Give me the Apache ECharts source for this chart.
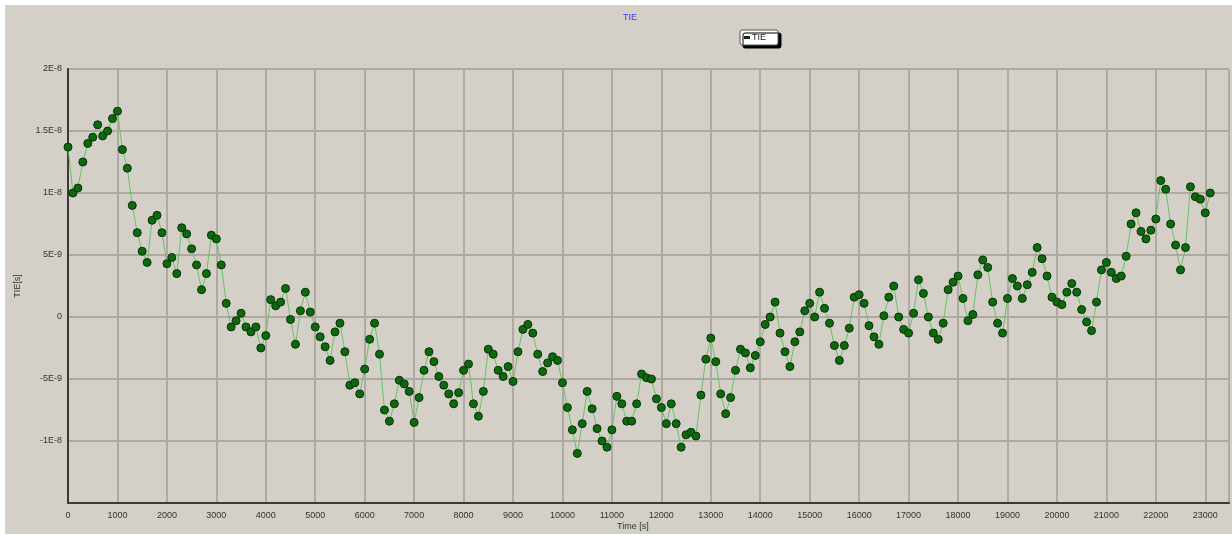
<!DOCTYPE html>
<html>
<head>
<meta charset="UTF-8">
<title>TIE</title>
<script src="https://cdn.jsdelivr.net/npm/echarts@6/dist/echarts.min.js"></script>
<style>
  html, body { margin: 0; padding: 0; background: #fff; }
  #chart { position: absolute; left: 5px; top: 5px; width: 1227px; height: 529px; }
</style>
</head>
<body>
<div id="chart"></div>
<script>
// time step of the samples (s)
var timeStep = 100;
// TIE values in ns, one every timeStep seconds from 0 s
var tieNs = [
  13.7, 10.0, 10.4, 12.5, 14.0, 14.5, 15.5, 14.6, 15.0, 16.0,
  16.6, 13.5, 12.0, 9.0, 6.8, 5.3, 4.4, 7.8, 8.2, 6.8,
  4.3, 4.8, 3.5, 7.2, 6.7, 5.5, 4.2, 2.2, 3.5, 6.6,
  6.3, 4.2, 1.1, -0.8, -0.3, 0.3, -0.8, -1.2, -0.8, -2.5,
  -1.5, 1.4, 0.9, 1.2, 2.3, -0.2, -2.2, 0.5, 2.0, 0.4,
  -0.8, -1.6, -2.4, -3.5, -1.2, -0.5, -2.8, -5.5, -5.3, -6.2,
  -4.2, -1.8, -0.5, -3.0, -7.5, -8.4, -7.0, -5.1, -5.4, -6.0,
  -8.5, -6.5, -4.3, -2.8, -3.6, -4.8, -5.5, -6.2, -7.0, -6.1,
  -4.3, -3.8, -7.0, -8.0, -6.0, -2.6, -3.0, -4.3, -4.8, -4.0,
  -5.2, -2.8, -1.0, -0.6, -1.3, -3.0, -4.4, -3.7, -3.2, -3.5,
  -5.3, -7.3, -9.1, -11.0, -8.6, -6.0, -7.4, -9.0, -10.0, -10.5,
  -9.1, -6.4, -7.0, -8.4, -8.4, -7.0, -4.6, -4.9, -5.0, -6.6,
  -7.3, -8.6, -7.0, -8.6, -10.5, -9.5, -9.3, -9.6, -6.3, -3.4,
  -1.7, -3.6, -6.2, -7.8, -6.5, -4.3, -2.6, -2.9, -4.1, -3.1,
  -2.0, -0.6, 0.0, 1.2, -1.3, -2.8, -4.0, -2.0, -1.2, 0.5,
  1.1, 0.0, 2.0, 0.7, -0.5, -2.3, -3.5, -2.3, -0.9, 1.6,
  1.8, 1.1, -0.7, -1.6, -2.2, 0.1, 1.6, 2.5, 0.0, -1.0,
  -1.3, 0.3, 3.0, 1.9, 0.0, -1.3, -1.8, -0.5, 2.2, 2.8,
  3.3, 1.5, -0.3, 0.2, 3.4, 4.6, 4.0, 1.2, -0.5, -1.3,
  1.5, 3.1, 2.5, 1.5, 2.6, 3.6, 5.6, 4.7, 3.3, 1.6,
  1.2, 1.0, 2.0, 2.7, 2.0, 0.6, -0.4, -1.1, 1.2, 3.8,
  4.4, 3.6, 3.1, 3.3, 4.9, 7.5, 8.4, 6.9, 6.3, 7.0,
  7.9, 11.0, 10.3, 7.5, 5.8, 3.8, 5.6, 10.5, 9.7, 9.5,
  8.4, 10.0
];
// y axis ticks (ns) and the labels shown for them
var yTicks = [-15, -10, -5, 0, 5, 10, 15, 20];
var yLabels = ['', '-1E-8', '-5E-9', '0', '5E-9', '1E-8', '1.5E-8', '2E-8'];
var xMax = 23480;

var points = [];
for (var i = 0; i < tieNs.length; i++) {
  points.push([i * timeStep, tieNs[i]]);
}

var myChart = echarts.init(document.getElementById('chart'));
var font = 'Liberation Sans, Arial, sans-serif';
var option = {
  backgroundColor: '#d4d0c8',
  animation: false,
  title: {
    text: 'TIE',
    left: 613,
    top: 3,
    textStyle: { color: '#3333ff', fontSize: 9, fontWeight: 'normal', fontFamily: font }
  },
  legend: {
    data: ['TIE'],
    left: 735,
    top: 25,
    backgroundColor: '#ffffff',
    borderColor: '#555',
    borderWidth: 1,
    borderRadius: 2,
    shadowColor: '#000',
    shadowOffsetX: 3,
    shadowOffsetY: 3,
    shadowBlur: 0,
    padding: [3, 12, 3, 4],
    itemWidth: 4,
    itemHeight: 1,
    itemGap: 2,
    icon: 'rect',
    textStyle: { color: '#222', fontSize: 9, fontFamily: font, padding: [0, 0, 0, -2] }
  },
  grid: {
    left: 62,
    top: 64,
    right: 3,
    bottom: 31
  },
  xAxis: {
    type: 'value',
    min: 0,
    max: xMax,
    interval: 1000,
    axisLine: { onZero: false, lineStyle: { color: '#3a3a3a', width: 2 } },
    axisTick: { show: false },
    axisLabel: {
      color: '#333',
      fontSize: 9,
      fontFamily: font,
      margin: 8,
      showMaxLabel: false,
      formatter: function(v) { return v % 1000 === 0 ? String(v) : ''; }
    },
    splitLine: { show: true, lineStyle: { color: '#aeaaa2', width: 2 } }
  },
  yAxis: {
    type: 'value',
    min: -15,
    max: 20,
    interval: 5,
    name: 'TIE[s]',
    nameLocation: 'middle',
    nameGap: 46,
    nameTextStyle: { color: '#333', fontSize: 9, fontFamily: font },
    axisLine: { show: true, onZero: false, lineStyle: { color: '#3a3a3a', width: 2 } },
    axisTick: { show: false },
    axisLabel: {
      color: '#333',
      fontSize: 9,
      fontFamily: font,
      margin: 6,
      formatter: function(v) {
        var idx = yTicks.indexOf(Math.round(v));
        return idx >= 0 ? yLabels[idx] : '';
      }
    },
    splitLine: { show: true, lineStyle: { color: '#aeaaa2', width: 2 } }
  },
  graphic: [{
    type: 'text',
    left: 612,
    top: 517,
    style: { text: 'Time [s]', fill: '#333', fontSize: 9, fontFamily: font }
  }],
  series: [{
    name: 'TIE',
    type: 'line',
    data: points,
    symbol: 'circle',
    symbolSize: 8,
    showAllSymbol: true,
    itemStyle: { color: '#0c6a0c', borderColor: '#0a300a', borderWidth: 1 },
    lineStyle: { color: '#66c266', width: 1 }
  }]
};
myChart.setOption(option);
</script>
</body>
</html>
